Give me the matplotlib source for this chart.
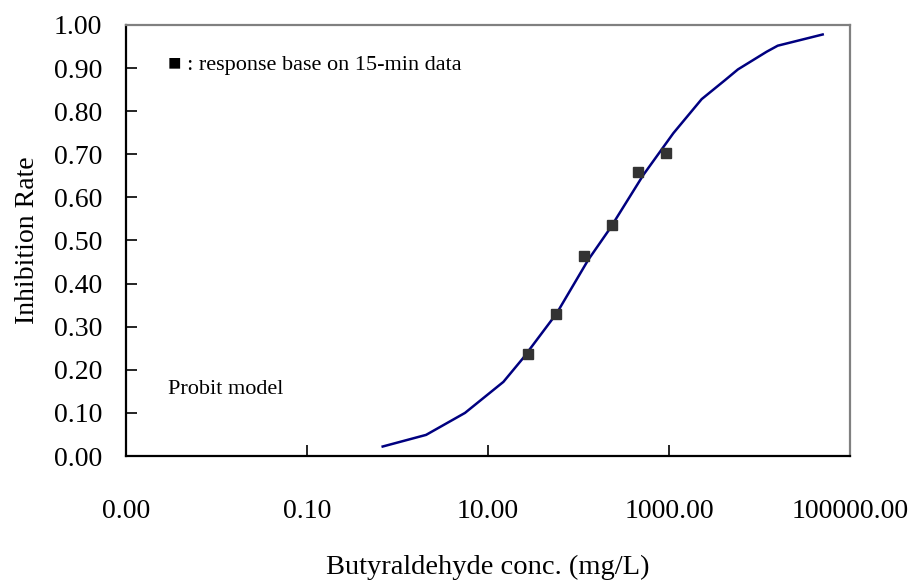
import numpy as np
import matplotlib
matplotlib.use('Agg')
import matplotlib.pyplot as plt
from matplotlib.ticker import FixedLocator, FuncFormatter

# 实测数据点 (15 min)
conc_obs = [27.7, 56.4, 115, 234, 454, 927]
rate_obs = [0.236, 0.329, 0.464, 0.535, 0.659, 0.703]

# Probit 模型曲线
conc_fit = [0.686, 2.07, 5.57, 14.8, 24.4, 57.4, 128, 223, 520, 1117,
            2296, 4155, 5780, 12000, 15900, 49900]
rate_fit = [0.022, 0.049, 0.100, 0.172, 0.227, 0.331, 0.455, 0.528, 0.652, 0.749,
            0.828, 0.872, 0.897, 0.938, 0.952, 0.978]

x_ticks = [0.001, 0.1, 10, 1000, 100000]
y_ticks = np.round(np.arange(0, 1.01, 0.1), 2)

plt.rcParams['font.family'] = ['Liberation Serif', 'DejaVu Sans']

fig = plt.figure(figsize=(9.14, 5.81), dpi=100)
ax = fig.add_axes([126 / 914, 125 / 581, 724 / 914, 431 / 581])

ax.plot(conc_fit, rate_fit, color='#000080', lw=1.8)
ax.plot(conc_obs, rate_obs, 's', color='#333333', ms=7.5, mec='#333333')

ax.set_xscale('log')
ax.set_xlim(0.001, 100000)
ax.set_ylim(0, 1.0)
ax.xaxis.set_major_locator(FixedLocator(x_ticks))
ax.xaxis.set_minor_locator(FixedLocator([]))
ax.xaxis.set_major_formatter(FuncFormatter(lambda v, p: '%.2f' % v))
ax.set_yticks(y_ticks)
ax.yaxis.set_major_formatter(FuncFormatter(lambda v, p: '%.2f' % v))

ax.tick_params(axis='y', direction='in', length=8, width=1.2, pad=17, labelsize=20)
ax.tick_params(axis='x', direction='in', length=8, width=1.2, pad=31, labelsize=20)
ax.tick_params(axis='x', which='minor', length=0)

for s in ['left', 'bottom']:
    ax.spines[s].set_color('black')
    ax.spines[s].set_linewidth(1.6)
for s in ['top', 'right']:
    ax.spines[s].set_color('#808080')
    ax.spines[s].set_linewidth(1.6)

ax.set_ylabel('Inhibition Rate', fontsize=20, labelpad=10)
ax.set_xlabel('Butyraldehyde conc. (mg/L)', fontsize=20.5, labelpad=22)

ax.text(0.058, 0.905, '\u25a0 : response base on 15-min data', transform=ax.transAxes,
        fontsize=16, va='center', ha='left')
ax.text(0.058, 0.155, 'Probit model', transform=ax.transAxes,
        fontsize=16, va='center', ha='left')

plt.savefig('out.png', dpi=100)
